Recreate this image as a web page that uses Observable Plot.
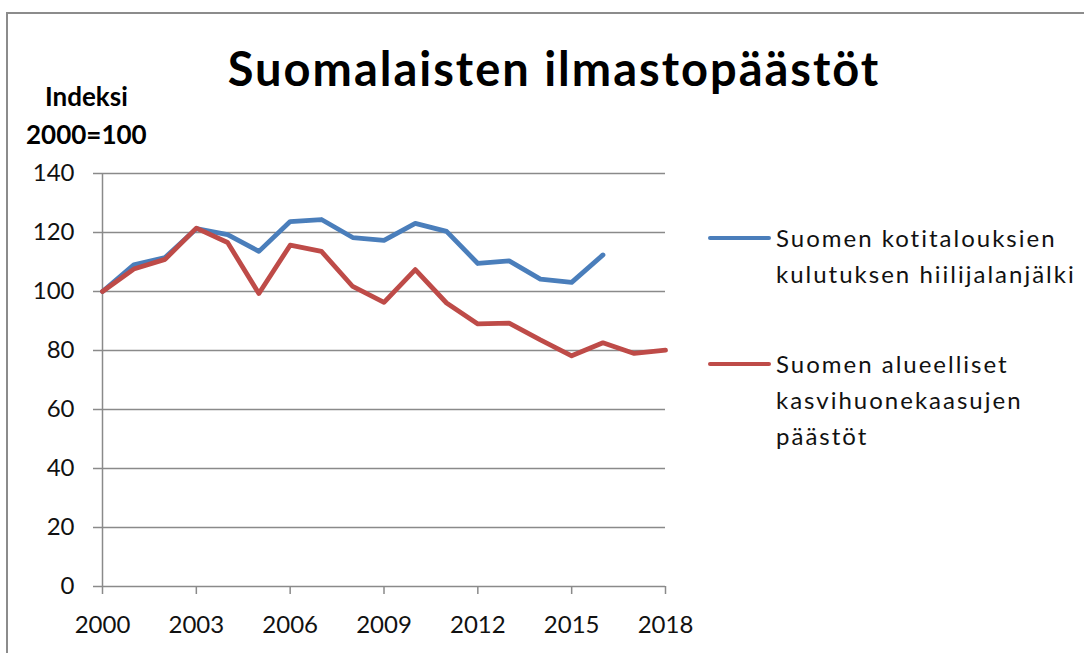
<!DOCTYPE html>
<html>
<head>
<meta charset="utf-8">
<script src="https://cdn.jsdelivr.net/npm/d3@7"></script>
<script src="https://cdn.jsdelivr.net/npm/@observablehq/plot@0.6"></script>
<style>
  html, body { margin: 0; padding: 0; background: #fff; }
  body { width: 1084px; height: 653px; overflow: hidden; font-family: Lato, "Open Sans", sans-serif; }
  #wrap { position: relative; width: 1084px; height: 653px; }
  #frameTop { position: absolute; left: 6px; top: 12px; width: 1078px; height: 2px; background: #8c8c8c; }
  #frameLeft { position: absolute; left: 6px; top: 12px; width: 2px; height: 641px; background: #8c8c8c; }
  #title { position: absolute; left: 0; top: 45px; width: 1108px; text-align: center; font-weight: bold; font-size: 47px; letter-spacing: 2px; color: #000; line-height: 1; }
  .ylab { position: absolute; font-weight: bold; font-size: 26px; color: #000; line-height: 1; }
  #chart { position: absolute; left: 0; top: 0; }
  .leg { position: absolute; left: 708px; }
  .leg .sw { position: absolute; left: 0; width: 63px; height: 4px; border-radius: 2px; }
  .leg .tx { position: absolute; left: 68px; top: 0; font-size: 24px; letter-spacing: 2px; line-height: 36px; color: #111; white-space: nowrap; }
</style>
</head>
<body>
<div id="wrap">
  <div id="frameTop"></div>
  <div id="frameLeft"></div>
  <div id="chart"></div>
  <div id="title">Suomalaisten ilmastopäästöt</div>
  <div class="ylab" style="left:45px; top:83px;">Indeksi</div>
  <div class="ylab" style="left:26px; top:121px;">2000=100</div>
  <div id="legend"></div>
</div>
<script>
const years = [2000,2001,2002,2003,2004,2005,2006,2007,2008,2009,2010,2011,2012,2013,2014,2015,2016,2017,2018];
const footprint = [100,109,111.5,121.3,119.3,113.6,123.7,124.4,118.3,117.3,123.1,120.4,109.5,110.4,104.2,103.1,112.4,null,null];
const territorial = [100,107.6,110.9,121.5,116.6,99.3,115.7,113.6,101.7,96.3,107.4,96.1,89.0,89.3,83.6,78.2,82.6,79.0,80.1];
const seriesNames = ["Suomen kotitalouksien kulutuksen hiilijalanjälki", "Suomen alueelliset kasvihuonekaasujen päästöt"];
const seriesColors = ["#4a7ebb", "#be4b48"];
const legendLines = [["Suomen kotitalouksien", "kulutuksen hiilijalanjälki"], ["Suomen alueelliset", "kasvihuonekaasujen", "päästöt"]];
const yTicks = [0,20,40,60,80,100,120,140];
const xTicks = [2000,2003,2006,2009,2012,2015,2018];

const rows = [];
years.forEach((y, i) => {
  if (footprint[i] != null) rows.push({year: y, value: footprint[i], series: seriesNames[0]});
});
years.forEach((y, i) => {
  if (territorial[i] != null) rows.push({year: y, value: territorial[i], series: seriesNames[1]});
});

const grid = "#8a8a8a";
const chart = Plot.plot({
  width: 1084,
  height: 653,
  marginLeft: 102,
  marginRight: 419,
  marginTop: 173,
  marginBottom: 67,
  style: {fontFamily: "Lato, 'Open Sans', sans-serif", fontSize: "24px", color: "#111", background: "transparent"},
  x: {domain: [2000, 2018]},
  y: {domain: [0, 140]},
  color: {domain: seriesNames, range: seriesColors},
  marks: [
    Plot.ruleY(yTicks.filter(d => d > 0), {x1: 2000, x2: 2018, stroke: grid, strokeWidth: 1.5}),
    Plot.axisY({ticks: yTicks, tickSize: 9, tickPadding: 19, stroke: grid, strokeWidth: 1.5, label: null, tickFormat: d => String(d), fill: "#111"}),
    Plot.axisX({ticks: xTicks, tickSize: 8, tickPadding: 21, stroke: grid, strokeWidth: 1.5, label: null, tickFormat: d => String(d), fill: "#111"}),
    Plot.ruleX([2000], {y1: 0, y2: 140, stroke: grid, strokeWidth: 1.5}),
    Plot.ruleY([0], {x1: 2000, x2: 2018, stroke: grid, strokeWidth: 1.5}),
    Plot.line(rows, {x: "year", y: "value", z: "series", stroke: "series", strokeWidth: 4.8, strokeLinejoin: "round", strokeLinecap: "round"})
  ]
});
document.getElementById("chart").appendChild(chart);

const legend = document.getElementById("legend");
const legTops = [220, 346];
legendLines.forEach((lines, i) => {
  const d = document.createElement("div");
  d.className = "leg";
  d.style.top = legTops[i] + "px";
  const sw = document.createElement("div");
  sw.className = "sw";
  sw.style.background = seriesColors[i];
  sw.style.top = "16px";
  d.appendChild(sw);
  const tx = document.createElement("div");
  tx.className = "tx";
  tx.innerHTML = lines.join("<br>");
  d.appendChild(tx);
  legend.appendChild(d);
});
</script>
</body>
</html>
